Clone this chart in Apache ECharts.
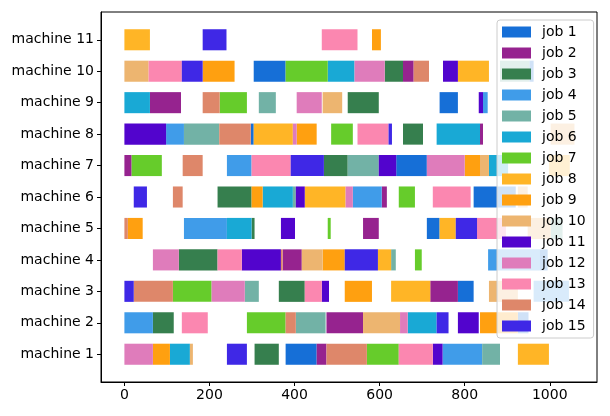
<!DOCTYPE html>
<html>
<head>
<meta charset="utf-8">
<script src="https://cdn.jsdelivr.net/npm/echarts@6/dist/echarts.min.js"></script>
<style>
  html, body { margin: 0; padding: 0; background: #fff; }
  #chart { width: 610px; height: 416px; }
</style>
</head>
<body>
<div id="chart"></div>
<script>
  // 机器与作业
  const machines = ['machine 1', 'machine 2', 'machine 3', 'machine 4', 'machine 5', 'machine 6',
    'machine 7', 'machine 8', 'machine 9', 'machine 10', 'machine 11']
  const jobs = ['job 1', 'job 2', 'job 3', 'job 4', 'job 5', 'job 6', 'job 7', 'job 8',
    'job 9', 'job 10', 'job 11', 'job 12', 'job 13', 'job 14', 'job 15']
  const jobColors = ['#166fd7', '#96238f', '#367f4e', '#409ce9', '#72b2a6', '#19a9d5', '#66cc2b',
    '#ffb526', '#ffa010', '#edb570', '#5204cd', '#df7cbb', '#fb87b0', '#de876a', '#3f28e6']
  const xTicks = [0, 200, 400, 600, 800, 1000]

  // 每台机器的工序: [job, start, end]
  const machine1 = [[12, 0, 67], [9, 67, 107], [6, 107, 154], [10, 154, 161], [15, 241, 288], [3, 306, 363],
    [1, 379, 452], [2, 452, 475], [14, 475, 570], [7, 570, 645], [13, 645, 725], [11, 725, 748],
    [4, 748, 841], [5, 841, 883], [8, 925, 998]]
  const machine2 = [[4, 0, 67], [3, 67, 116], [13, 135, 196], [7, 288, 379], [14, 379, 403], [5, 403, 473],
    [2, 475, 561], [10, 561, 648], [12, 648, 666], [6, 666, 734], [15, 734, 762], [11, 784, 833],
    [9, 836, 925], [1, 925, 950]]
  const machine3 = [[15, 0, 22], [14, 22, 114], [7, 114, 205], [12, 205, 283], [5, 283, 316], [3, 363, 424],
    [13, 424, 464], [11, 464, 481], [9, 518, 582], [8, 627, 719], [2, 719, 784], [1, 784, 821],
    [10, 857, 925], [4, 962, 1045]]
  const machine4 = [[12, 67, 128], [3, 128, 219], [13, 219, 276], [11, 276, 368], [14, 368, 372], [2, 372, 417],
    [10, 417, 466], [9, 466, 518], [15, 518, 596], [8, 596, 627], [5, 627, 638], [7, 683, 699],
    [4, 855, 977], [1, 977, 995]]
  const machine5 = [[14, 0, 8], [9, 8, 43], [4, 140, 241], [6, 241, 299], [3, 299, 306], [11, 368, 401],
    [7, 478, 485], [2, 561, 598], [1, 711, 741], [8, 741, 779], [15, 779, 829], [13, 829, 897],
    [10, 948, 1002], [5, 1002, 1030]]
  const machine6 = [[15, 22, 53], [14, 114, 137], [3, 219, 299], [9, 299, 325], [6, 325, 396], [5, 396, 403],
    [11, 403, 424], [8, 424, 520], [12, 520, 537], [4, 537, 605], [2, 605, 617], [7, 645, 683],
    [13, 725, 814], [1, 821, 920], [10, 925, 948]]
  const machine7 = [[2, 0, 17], [7, 17, 88], [14, 137, 184], [4, 241, 299], [13, 299, 391], [15, 391, 469],
    [3, 469, 525], [5, 525, 598], [11, 598, 639], [1, 639, 711], [12, 711, 800], [9, 800, 836],
    [10, 836, 857], [6, 857, 902], [8, 998, 1047]]
  const machine8 = [[11, 0, 98], [4, 98, 140], [5, 140, 223], [14, 223, 297], [1, 297, 304], [8, 304, 396],
    [12, 396, 405], [9, 405, 452], [7, 486, 537], [13, 548, 621], [15, 621, 629], [3, 655, 702],
    [6, 734, 836], [2, 836, 843], [10, 1002, 1058]]
  const machine9 = [[6, 0, 60], [2, 60, 133], [14, 184, 224], [7, 224, 288], [5, 316, 356], [12, 405, 464],
    [10, 466, 512], [3, 525, 598], [1, 741, 784], [11, 833, 843], [4, 843, 854]]
  const machine10 = [[10, 0, 57], [13, 57, 135], [15, 135, 184], [9, 184, 259], [1, 304, 379], [7, 379, 478],
    [6, 478, 541], [12, 541, 612], [3, 612, 655], [2, 655, 680], [14, 680, 716], [11, 749, 784],
    [8, 784, 857], [5, 883, 952], [1, 952, 962]]
  const machine11 = [[8, 0, 60], [15, 184, 240], [13, 464, 548], [9, 582, 603]]

  const schedule = [machine1, machine2, machine3, machine4, machine5, machine6,
    machine7, machine8, machine9, machine10, machine11]
  const barHeight = 0.67

  // 按作业拆分成系列
  const seriesData = jobs.map(() => [])
  schedule.forEach(function (tasks, m) {
    tasks.forEach(function (t) {
      seriesData[t[0] - 1].push([t[1], t[2], m + 1])
    })
  })

  function renderItem (params, api) {
    const start = api.coord([api.value(0), api.value(2)])
    const end = api.coord([api.value(1), api.value(2)])
    const h = api.size([0, barHeight])[1]
    return {
      type: 'rect',
      shape: { x: start[0], y: start[1] - h / 2, width: end[0] - start[0], height: h },
      style: { fill: api.visual('color') }
    }
  }

  const font = 'DejaVu Sans'
  const myChart = echarts.init(document.getElementById('chart'))
  myChart.setOption({
    animation: false,
    textStyle: { fontFamily: font },
    grid: {
      left: 101, right: 13, top: 12, bottom: 34,
      show: true, borderColor: '#000', borderWidth: 1, backgroundColor: 'transparent'
    },
    legend: {
      orient: 'vertical',
      left: 497,
      top: 20,
      data: jobs,
      icon: 'rect',
      itemWidth: 29,
      itemHeight: 11,
      itemGap: 7,
      padding: [5, 8, 5, 5],
      backgroundColor: 'rgba(255,255,255,0.8)',
      borderColor: '#cccccc',
      borderWidth: 1,
      borderRadius: 3,
      textStyle: { fontFamily: font, fontSize: 14, color: '#000', padding: [0, 0, 0, 6] }
    },
    xAxis: {
      type: 'value',
      min: -55,
      max: 1111,
      axisLine: { show: true, onZero: false, lineStyle: { color: '#000' } },
      axisTick: { show: true, customValues: xTicks, length: 4, lineStyle: { color: '#000' } },
      axisLabel: {
        customValues: xTicks,
        formatter: function (v) { return String(v) },
        color: '#000', fontSize: 14, fontFamily: font, margin: 6
      },
      splitLine: { show: false }
    },
    yAxis: {
      type: 'value',
      min: 0.117,
      max: 11.883,
      axisLine: { show: true, onZero: false, lineStyle: { color: '#000' } },
      axisTick: { show: true, customValues: machines.map((m, i) => i + 1), length: 4, lineStyle: { color: '#000' } },
      axisLabel: {
        customValues: machines.map((m, i) => i + 1),
        formatter: function (v) { return machines[Math.round(v) - 1] },
        color: '#000', fontSize: 14, fontFamily: font, margin: 7
      },
      splitLine: { show: false }
    },
    series: jobs.map(function (name, i) {
      return {
        name: name,
        type: 'custom',
        renderItem: renderItem,
        itemStyle: { color: jobColors[i] },
        encode: { x: [0, 1], y: 2 },
        data: seriesData[i]
      }
    })
  })
</script>
</body>
</html>
